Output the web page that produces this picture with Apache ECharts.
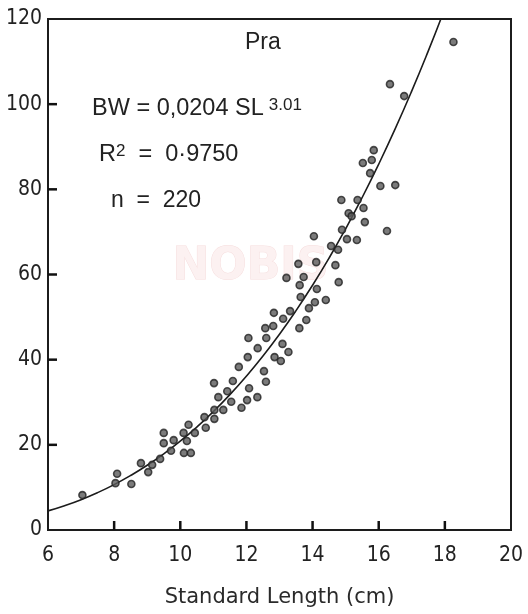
<!DOCTYPE html>
<html>
<head>
<meta charset="utf-8">
<script src="https://cdn.jsdelivr.net/npm/echarts@6/dist/echarts.min.js"></script>
<style>
html,body{margin:0;padding:0;background:#fff;}
#chart{width:528px;height:614px;}
</style>
</head>
<body>
<div id="chart"></div>
<script>
// Tick labels
const xTickLabels = [6, 8, 10, 12, 14, 16, 18, 20];
const yTickLabels = [0, 20, 40, 60, 80, 100, 120];

// Observed fish: standard length (cm) and body weight (g)
const lengthCm = [
  7.04, 8.09, 8.04, 8.52, 8.81, 9.03, 9.15, 9.39, 9.50, 9.50,
  9.72, 9.80, 10.10, 10.11, 10.32, 10.20, 10.25, 10.44, 10.73, 10.77,
  11.03, 11.03, 11.02, 11.15, 11.30, 11.42, 11.54, 11.59, 11.77, 11.85,
  12.02, 12.04, 12.08, 12.06, 12.33, 12.34, 12.53, 12.59, 12.57, 12.60,
  12.81, 12.83, 12.85, 13.04, 13.09, 13.27, 13.11, 13.32, 13.21, 13.60,
  13.57, 13.61, 13.64, 13.73, 13.81, 13.89, 14.07, 14.11, 14.13, 14.40,
  14.56, 14.69, 14.79, 14.77, 14.04, 14.89, 14.87, 15.04, 15.09, 15.18,
  15.34, 15.36, 15.54, 15.58, 15.52, 15.74, 15.79, 15.85, 16.05, 16.25,
  16.50, 16.34, 16.77, 18.26
];
const weightG = [
  8.2, 13.2, 11.0, 10.8, 15.7, 13.6, 15.3, 16.7, 22.8, 20.4,
  18.6, 21.1, 22.8, 18.1, 18.1, 20.9, 24.7, 22.8, 26.5, 24.0,
  28.2, 26.1, 34.5, 31.2, 28.2, 32.6, 30.1, 35.0, 38.3, 28.7,
  30.5, 40.6, 33.3, 45.1, 31.2, 42.7, 37.3, 34.8, 47.4, 45.1,
  47.9, 51.0, 40.6, 39.7, 43.7, 41.8, 49.6, 51.4, 59.2, 47.4,
  62.5, 57.5, 54.7, 59.4, 49.3, 52.1, 53.5, 62.9, 56.6, 54.0,
  66.7, 62.2, 58.2, 65.8, 69.0, 70.5, 77.5, 68.3, 74.4, 73.7,
  68.1, 77.5, 75.6, 72.3, 86.2, 83.8, 86.9, 89.2, 80.8, 70.2,
  81.0, 104.7, 101.9, 114.6
];

// Fitted curve
const curveX = [6, 6.5, 7, 7.5, 8, 8.5, 9, 9.5, 10, 10.5, 11, 11.5, 12, 12.5, 13, 13.5, 14, 14.5, 15, 15.5, 16, 16.5, 17, 17.5, 17.9];
const curveY = [4.49, 5.71, 7.13, 8.78, 10.66, 12.80, 15.20, 17.89, 20.88, 24.18, 27.81, 31.79, 36.14, 40.86, 45.98, 51.52, 57.48, 63.88, 70.74, 78.08, 85.91, 94.24, 103.11, 112.51, 120.43];

const FONT = "'Liberation Sans Narrow', 'DejaVu Sans Condensed', 'Liberation Sans', sans-serif";
const INK = '#1c1c1c';
const TICK_LEN = 9;

const scatterData = lengthCm.map((x, i) => [x, weightG[i]]);
const curveData = curveX.map((x, i) => [x, curveY[i]]);
const xMin = xTickLabels[0], xMax = xTickLabels[xTickLabels.length - 1];
const yMin = yTickLabels[0], yMax = yTickLabels[yTickLabels.length - 1];
const xInnerTicks = xTickLabels.slice(1, -1).map(v => [v, yMin]);
const yInnerTicks = yTickLabels.slice(1, -1).map(v => [xMin, v]);

function tickRenderer(dir) {
  return function (params, api) {
    const p = api.coord([api.value(0), api.value(1)]);
    const shape = dir === 'up'
      ? {x1: p[0], y1: p[1], x2: p[0], y2: p[1] - TICK_LEN}
      : {x1: p[0], y1: p[1], x2: p[0] + TICK_LEN, y2: p[1]};
    return {type: 'line', shape: shape, style: {stroke: '#111', lineWidth: 2.5}};
  };
}

const chart = echarts.init(document.getElementById('chart'), null, {renderer: 'canvas'});
chart.setOption({
  animation: false,
  backgroundColor: '#ffffff',
  grid: {
    left: 48, right: 17, top: 19, bottom: 84,
    show: true, borderColor: INK, borderWidth: 2, backgroundColor: 'transparent'
  },
  xAxis: {
    type: 'value', min: xMin, max: xMax, interval: 2,
    name: 'Standard Length (cm)',
    nameLocation: 'middle', nameGap: 57,
    nameTextStyle: {fontFamily: "'DejaVu Sans', sans-serif", fontSize: 21, color: '#2a2a2a'},
    axisLine: {show: true, onZero: false, lineStyle: {color: INK, width: 2}},
    axisTick: {show: false},
    axisLabel: {fontFamily: FONT, fontSize: 21, color: '#222', margin: 15},
    splitLine: {show: false}
  },
  yAxis: {
    type: 'value', min: yMin, max: yMax, interval: 20,
    axisLine: {show: true, onZero: false, lineStyle: {color: INK, width: 2}},
    axisTick: {show: false},
    axisLabel: {fontFamily: FONT, fontSize: 21, color: '#222', margin: 6},
    splitLine: {show: false}
  },
  graphic: [
    {type: 'text', left: 172, top: 245, z: -10, silent: true,
     style: {text: 'NOBIS', font: 'bold 44px "DejaVu Sans"', fill: '#fcf1f1', stroke: '#f6dede', lineWidth: 1}},
    {type: 'text', left: 245, top: 31,
     style: {text: 'Pra', font: '23px "Liberation Sans"', fill: '#222'}},
    {type: 'text', left: 92, top: 97,
     style: {text: '{m|BW = 0,0204 SL}{s|3.01}', fill: '#222',
       rich: {m: {font: '23.5px "Liberation Sans"', fill: '#222', verticalAlign: 'bottom'},
              s: {font: '17px "Liberation Sans"', fill: '#222', verticalAlign: 'top', padding: [0, 0, 0, 5]}}}},
    {type: 'text', left: 99, top: 143,
     style: {text: '{m|R}{s|2}{m|  =  0·9750}', fill: '#222',
       rich: {m: {font: '23.5px "Liberation Sans"', fill: '#222', verticalAlign: 'bottom'},
              s: {font: '17px "Liberation Sans"', fill: '#222', verticalAlign: 'top'}}}},
    {type: 'text', left: 111, top: 189,
     style: {text: 'n  =  220', font: '23px "Liberation Sans"', fill: '#222'}}
  ],
  series: [
    {
      type: 'custom', data: xInnerTicks, renderItem: tickRenderer('up'),
      clip: false, silent: true, z: 5
    },
    {
      type: 'custom', data: yInnerTicks, renderItem: tickRenderer('right'),
      clip: false, silent: true, z: 5
    },
    {
      type: 'line', data: curveData, smooth: true, showSymbol: false,
      lineStyle: {color: INK, width: 1.6}, z: 2, clip: true
    },
    {
      type: 'scatter', data: scatterData, symbol: 'circle', symbolSize: 7,
      itemStyle: {color: '#5a5a5a', borderColor: '#222', borderWidth: 1.6}, z: 3
    }
  ]
});
</script>
</body>
</html>
